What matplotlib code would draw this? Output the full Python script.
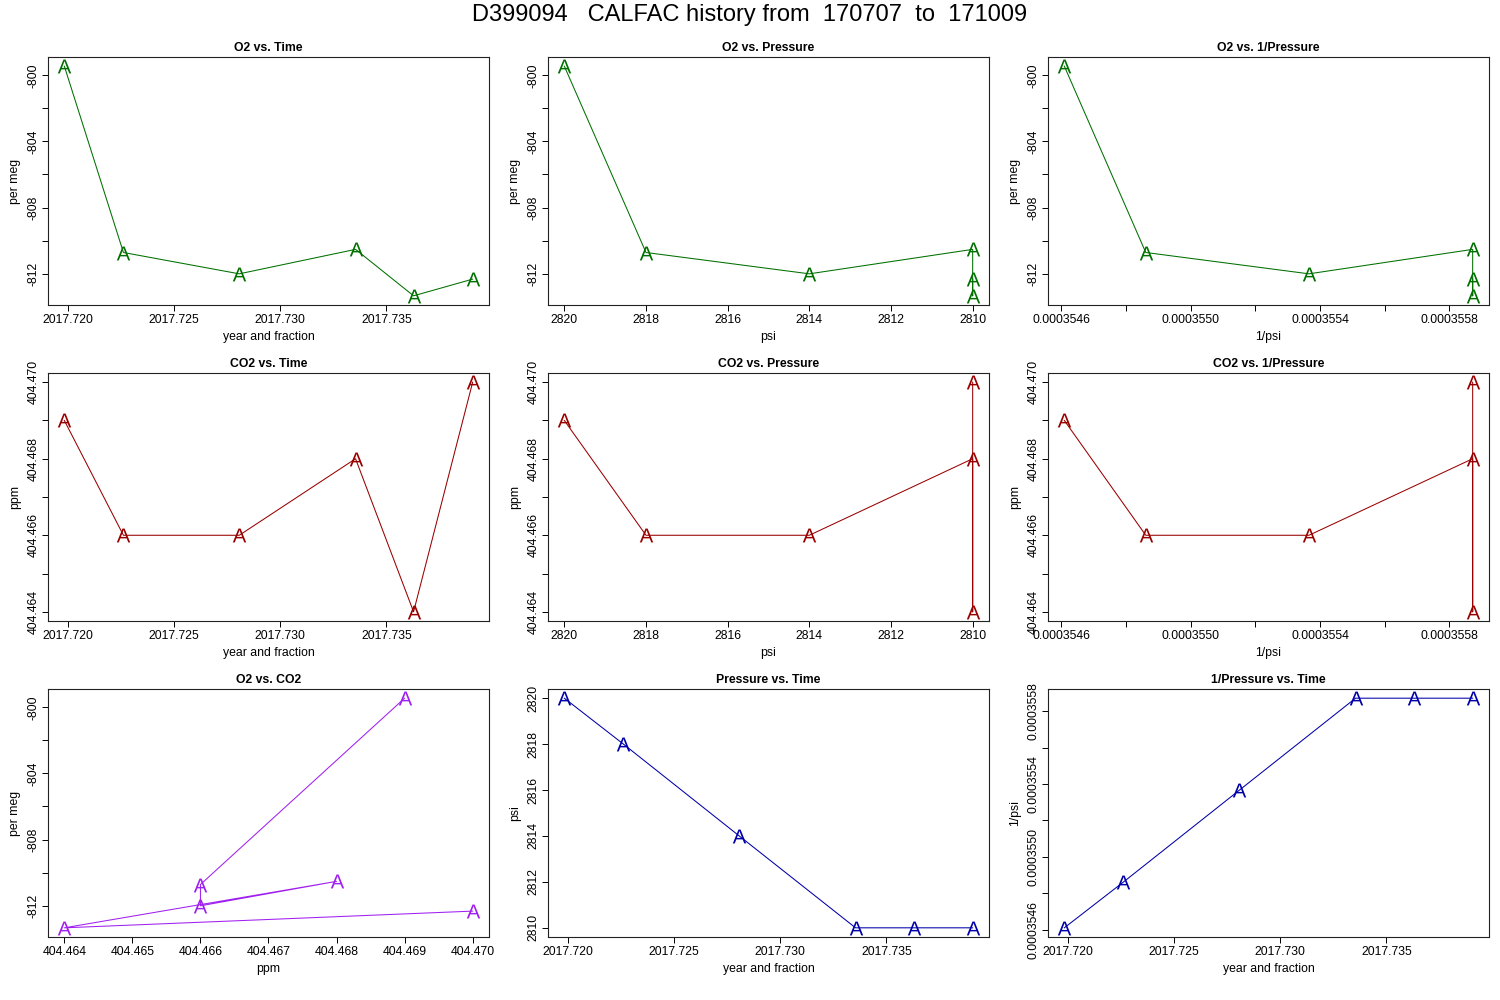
import numpy as np
import matplotlib
matplotlib.use("Agg")
import matplotlib.pyplot as plt

# font like R's Helvetica
plt.rcParams['font.family'] = ['Liberation Sans', 'DejaVu Sans']
plt.rcParams['mathtext.fontset'] = 'custom'
plt.rcParams['mathtext.rm'] = 'Liberation Sans'
plt.rcParams['mathtext.it'] = 'Liberation Sans'
plt.rcParams['mathtext.default'] = 'rm'

# data
time = [2017.71985, 2017.72263, 2017.72808, 2017.73355, 2017.73628, 2017.73906]
o2 = [-799.45, -810.72, -812.01, -810.53, -813.34, -812.33]
co2 = [404.469, 404.466, 404.466, 404.468, 404.464, 404.470]
pressure = [2820, 2818, 2814, 2810, 2810, 2810]
inv_pressure = [1.0 / p for p in pressure]

title = "D399094   CALFAC history from  170707  to  171009"

time_ticks = [2017.720, 2017.725, 2017.730, 2017.735]
o2_ticks = [-800, -802, -804, -806, -808, -810, -812]
co2_ticks = [404.464, 404.465, 404.466, 404.467, 404.468, 404.469, 404.470]
psi_ticks = [2810, 2812, 2814, 2816, 2818, 2820]
invp_ticks = [0.0003546, 0.0003548, 0.0003550, 0.0003552, 0.0003554, 0.0003556, 0.0003558]

GREEN = '#007000'
RED = '#990000'
PURPLE = '#a020f0'
BLUE = '#0000a8'

FS = 8.8


def rlim(v, rev=False):
    # R style axis range: 4% padding each side
    lo, hi = min(v), max(v)
    d = (hi - lo) * 0.04
    return (hi + d, lo - d) if rev else (lo - d, hi + d)


def labels(ticks, fmt, every=1):
    out = []
    for i, t in enumerate(ticks):
        out.append(fmt.format(t) if i % every == 0 else '')
    return out


fig = plt.figure(figsize=(15, 10), dpi=100)
fig.text(0.5, 0.985, title, ha='center', va='center', fontsize=17)

lefts = [48, 548, 1048]
bottoms = [305, 621, 937]


def make_ax(row, col):
    ax = fig.add_axes([lefts[col] / 1500, 1 - bottoms[row] / 1000, 441 / 1500, 248 / 1000])
    for s in ax.spines.values():
        s.set_linewidth(0.8)
        s.set_color('#222222')
    ax.tick_params(direction='out', length=4.2, width=0.7, labelsize=FS, pad=2.5)
    ax.tick_params(axis='y', pad=2)
    return ax


def draw(ax, x, y, color, ttl, xl, yl):
    # lines with the letter A as point symbol, like R pch="A"
    ax.plot(x, y, '-', color=color, lw=0.75, marker='$A$', ms=10, mec=color, mfc=color, mew=0)
    ax.set_title(ttl, fontsize=FS, fontweight='bold', pad=4)
    ax.set_xlabel(xl, fontsize=FS)
    ax.set_ylabel(yl, fontsize=FS)
    ax.xaxis.set_label_coords(0.5, -0.129)
    ax.xaxis.label.set_verticalalignment('center')
    ax.yaxis.set_label_coords(-0.075, 0.5)
    ax.yaxis.label.set_verticalalignment('center')


def yticks(ax, ticks, lbls):
    ax.set_yticks(ticks)
    ax.set_yticklabels(lbls, rotation=90, va='center')


def xticks(ax, ticks, lbls):
    ax.set_xticks(ticks)
    ax.set_xticklabels(lbls)


time_lbl = labels(time_ticks, '{:.3f}')
o2_lbl = labels(o2_ticks, '{:.0f}', 2)
co2_lbl2 = labels(co2_ticks, '{:.3f}', 2)
co2_lbl = labels(co2_ticks, '{:.3f}')
psi_lbl = labels(psi_ticks, '{:.0f}')
invp_lbl = labels(invp_ticks, '{:.7f}', 2)

# row 1: O2
ax = make_ax(0, 0)
draw(ax, time, o2, GREEN, 'O2 vs. Time', 'year and fraction', 'per meg')
ax.set_xlim(rlim(time)); ax.set_ylim(rlim(o2))
xticks(ax, time_ticks, time_lbl); yticks(ax, o2_ticks, o2_lbl)

ax = make_ax(0, 1)
draw(ax, pressure, o2, GREEN, 'O2 vs. Pressure', 'psi', 'per meg')
ax.set_xlim(rlim(pressure, rev=True)); ax.set_ylim(rlim(o2))
xticks(ax, psi_ticks, psi_lbl); yticks(ax, o2_ticks, o2_lbl)

ax = make_ax(0, 2)
draw(ax, inv_pressure, o2, GREEN, 'O2 vs. 1/Pressure', '1/psi', 'per meg')
ax.set_xlim(rlim(inv_pressure)); ax.set_ylim(rlim(o2))
xticks(ax, invp_ticks, invp_lbl); yticks(ax, o2_ticks, o2_lbl)

# row 2: CO2
ax = make_ax(1, 0)
draw(ax, time, co2, RED, 'CO2 vs. Time', 'year and fraction', 'ppm')
ax.set_xlim(rlim(time)); ax.set_ylim(rlim(co2))
xticks(ax, time_ticks, time_lbl); yticks(ax, co2_ticks, co2_lbl2)

ax = make_ax(1, 1)
draw(ax, pressure, co2, RED, 'CO2 vs. Pressure', 'psi', 'ppm')
ax.set_xlim(rlim(pressure, rev=True)); ax.set_ylim(rlim(co2))
xticks(ax, psi_ticks, psi_lbl); yticks(ax, co2_ticks, co2_lbl2)

ax = make_ax(1, 2)
draw(ax, inv_pressure, co2, RED, 'CO2 vs. 1/Pressure', '1/psi', 'ppm')
ax.set_xlim(rlim(inv_pressure)); ax.set_ylim(rlim(co2))
xticks(ax, invp_ticks, invp_lbl); yticks(ax, co2_ticks, co2_lbl2)

# row 3
ax = make_ax(2, 0)
draw(ax, co2, o2, PURPLE, 'O2 vs. CO2', 'ppm', 'per meg')
ax.set_xlim(rlim(co2)); ax.set_ylim(rlim(o2))
xticks(ax, co2_ticks, co2_lbl); yticks(ax, o2_ticks, o2_lbl)

ax = make_ax(2, 1)
draw(ax, time, pressure, BLUE, 'Pressure vs. Time', 'year and fraction', 'psi')
ax.set_xlim(rlim(time)); ax.set_ylim(rlim(pressure))
xticks(ax, time_ticks, time_lbl); yticks(ax, psi_ticks, psi_lbl)

ax = make_ax(2, 2)
draw(ax, time, inv_pressure, BLUE, '1/Pressure vs. Time', 'year and fraction', '1/psi')
ax.set_xlim(rlim(time)); ax.set_ylim(rlim(inv_pressure))
xticks(ax, time_ticks, time_lbl); yticks(ax, invp_ticks, invp_lbl)

fig.savefig('out.png', dpi=100)
